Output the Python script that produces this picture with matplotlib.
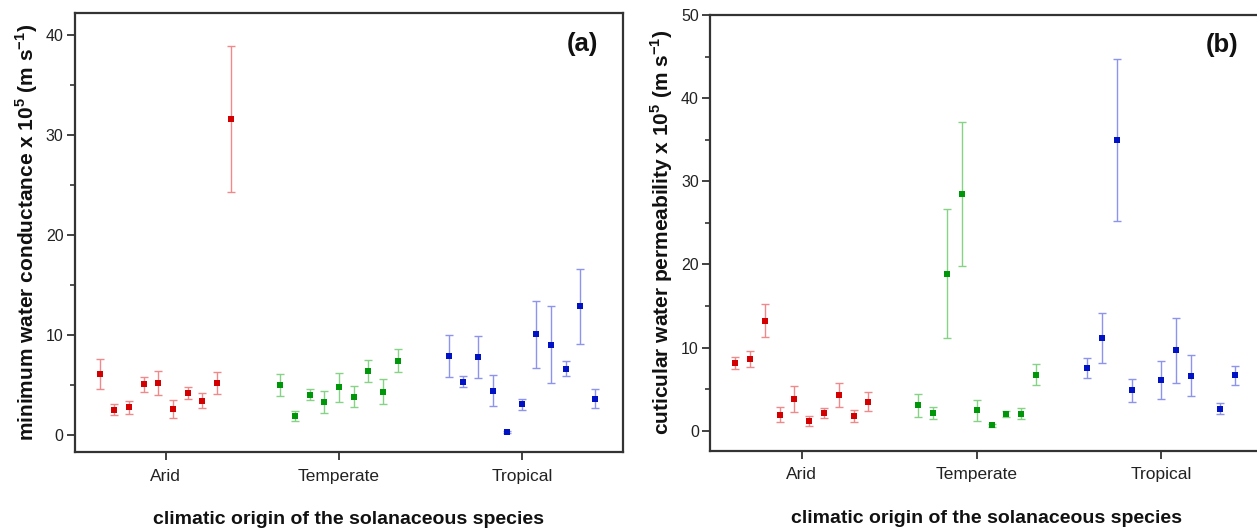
import numpy as np
import matplotlib
matplotlib.use("Agg")
import matplotlib.pyplot as plt
from matplotlib.ticker import MultipleLocator

plt.rcParams['font.family'] = ['Liberation Sans', 'DejaVu Sans']
plt.rcParams['mathtext.fontset'] = 'custom'
plt.rcParams['mathtext.rm'] = 'Liberation Sans'
plt.rcParams['mathtext.bf'] = 'Liberation Sans:bold'

# ---------------- data ----------------
categories = ["Arid", "Temperate", "Tropical"]

# panel (a): minimum water conductance x 10^5 (m s-1)
a_arid = [6.08, 2.53, 2.77, 5.06, 5.20, 2.63, 4.19, 3.44, 5.23, 31.56]
a_arid_err = [1.50, 0.55, 0.65, 0.75, 1.20, 0.90, 0.60, 0.74, 1.10, 7.30]
a_temp = [4.96, 1.86, 4.02, 3.27, 4.79, 3.85, 6.45, 4.35, 7.43]
a_temp_err = [1.10, 0.50, 0.55, 1.10, 1.45, 1.05, 1.10, 1.25, 1.15]
a_trop = [7.93, 5.33, 7.76, 4.42, 0.34, 3.07, 10.06, 9.01, 6.65, 12.89, 3.65]
a_trop_err = [2.10, 0.55, 2.10, 1.55, 0.10, 0.58, 3.35, 3.85, 0.73, 3.75, 0.97]

# panel (b): cuticular water permeability x 10^5 (m s-1)
nan = np.nan
b_arid = [8.12, 8.60, 13.25, 1.90, 3.84, 1.13, 2.10, 4.32, 1.78, 3.47]
b_arid_err = [0.75, 0.95, 1.95, 0.90, 1.60, 0.60, 0.60, 1.43, 0.77, 1.13]
b_temp = [3.07, 2.10, 18.90, 28.47, 2.46, 0.65, 2.06, 2.06, 6.74]
b_temp_err = [1.37, 0.73, 7.80, 8.60, 1.27, 0.20, 0.36, 0.70, 1.23]
b_trop = [7.55, 11.19, 34.98, 4.85, nan, 6.06, 9.69, 6.62, nan, 2.63, 6.66]
b_trop_err = [1.20, 3.00, 9.75, 1.40, nan, 2.28, 3.90, 2.45, nan, 0.67, 1.14]

# ---------------- layout / style ----------------
group_start = [0.0, 12.35, 23.84]
marker_colors = ["#d20000", "#00960a", "#0012c4"]
err_colors = ["#f08a8a", "#86d286", "#8c94ee"]
spine_col = "#333333"

fig = plt.figure(figsize=(12.57, 5.28), dpi=100)
axA = fig.add_axes([0.0593, 0.1439, 0.4364, 0.8314])
axB = fig.add_axes([0.5648, 0.1464, 0.4404, 0.8261])


def draw(ax, groups, ylim, ylabel, tag, major, minor):
    centers = []
    for gi, (vals, errs) in enumerate(groups):
        vals = np.asarray(vals, float)
        errs = np.asarray(errs, float)
        x = group_start[gi] + np.arange(len(vals))
        centers.append(group_start[gi] + (len(vals) - 1) / 2)
        ax.errorbar(x, vals, yerr=errs, fmt='none', ecolor=err_colors[gi],
                    elinewidth=1.0, capsize=3.2, capthick=1.0, zorder=2)
        ax.plot(x, vals, 's', color=marker_colors[gi], markersize=4.5,
                markeredgewidth=0, zorder=3)
    ax.set_xlim(-1.72, 35.76)
    ax.set_ylim(*ylim)
    ax.set_xticks(centers)
    ax.set_xticklabels(categories, fontsize=12.5, color="#222222")
    ax.yaxis.set_major_locator(MultipleLocator(major))
    ax.yaxis.set_minor_locator(MultipleLocator(minor))
    ax.tick_params(axis='y', which='major', direction='out', length=6,
                   width=1.3, labelsize=11.5, colors=spine_col, labelcolor="#222222", pad=2)
    ax.tick_params(axis='y', which='minor', direction='out', length=3.5,
                   width=1.2, colors=spine_col)
    ax.tick_params(axis='x', which='major', direction='out', length=6,
                   width=1.3, colors=spine_col, labelcolor="#222222", pad=6)
    for s in ax.spines.values():
        s.set_linewidth(1.6)
        s.set_color(spine_col)
    ax.set_ylabel(ylabel, fontsize=15, fontweight='bold', color="#111111", labelpad=4)
    ax.set_xlabel("climatic origin of the solanaceous species", fontsize=14,
                  fontweight='bold', color="#111111", labelpad=20)
    ax.text(0.925, 0.93, tag, transform=ax.transAxes, fontsize=18.5,
            fontweight='bold', ha='center', va='center', color="#111111")


draw(axA, [(a_arid, a_arid_err), (a_temp, a_temp_err), (a_trop, a_trop_err)],
     (-1.7, 42.2),
     r"minimum water conductance x 10$^{\mathbf{5}}$ (m s$^{\mathbf{-1}}$)",
     "(a)", 10, 5)
draw(axB, [(b_arid, b_arid_err), (b_temp, b_temp_err), (b_trop, b_trop_err)],
     (-2.4, 50.05),
     r"cuticular water permeability x 10$^{\mathbf{5}}$ (m s$^{\mathbf{-1}}$)",
     "(b)", 10, 5)

fig.savefig("out.png", dpi=100)
